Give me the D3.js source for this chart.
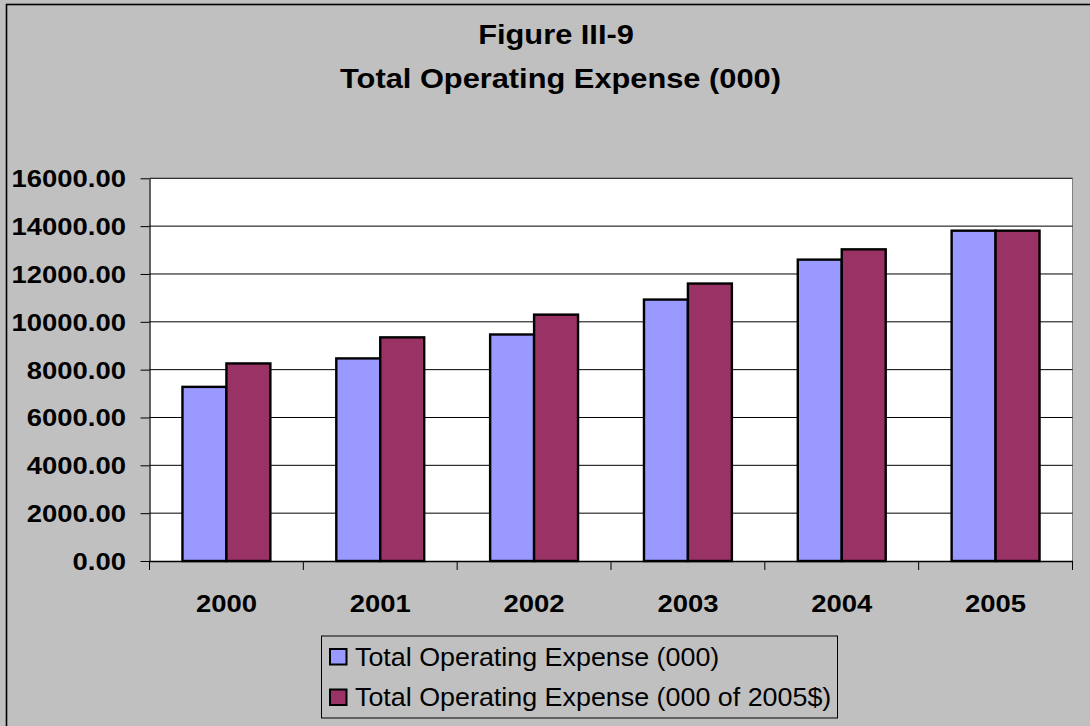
<!DOCTYPE html>
<html>
<head>
<meta charset="utf-8">
<script src="https://cdn.jsdelivr.net/npm/d3@7"></script>
<style>
  html, body { margin: 0; padding: 0; background: #c0c0c0; }
  svg { display: block; }
  text { font-family: Arial, "Liberation Sans", sans-serif; fill: #000; }
</style>
</head>
<body>
<svg id="chart" width="1090" height="726"></svg>
<script>
// Fiscal years on the category axis
const years = ["2000", "2001", "2002", "2003", "2004", "2005"];
// Total operating expense, nominal dollars (000)
const nominal = [7280, 8470, 9470, 10930, 12600, 13810];
// Total operating expense, constant 2005 dollars (000)
const constant2005 = [8260, 9350, 10300, 11600, 13030, 13810];
// Value axis ticks
const yTicks = [0, 2000, 4000, 6000, 8000, 10000, 12000, 14000, 16000];

const seriesNames = ["Total Operating Expense (000)", "Total Operating Expense (000 of 2005$)"];
const seriesColors = ["#9999ff", "#993366"];
const seriesValues = [nominal, constant2005];

const svg = d3.select("#chart");
const W = 1090, H = 726;

// chart area background and frame (frame runs off the right/bottom edge)
svg.append("rect").attr("x", 0).attr("y", 0).attr("width", W).attr("height", H).attr("fill", "#c0c0c0");
svg.append("rect").attr("x", 6.5).attr("y", 4.5).attr("width", 1200).attr("height", 900)
  .attr("fill", "none").attr("stroke", "#000").attr("stroke-width", 1.6);

const plot = { left: 149.5, right: 1072.5, top: 178.3, bottom: 561 };

const x0 = d3.scaleBand().domain(years).range([plot.left, plot.right]).paddingInner(0).paddingOuter(0);
// gap width 150%: two bars occupy 2 / 3.5 of each category
const groupW = x0.bandwidth() * 2 / 3.5;
const x1 = d3.scaleBand().domain([0, 1]).range([0, groupW]).padding(0);
const y = d3.scaleLinear().domain([0, 16000]).range([plot.bottom, plot.top]);

// plot area
svg.append("rect").attr("x", plot.left).attr("y", plot.top)
  .attr("width", plot.right - plot.left).attr("height", plot.bottom - plot.top)
  .attr("fill", "#fff");
svg.append("line").attr("x1", plot.right).attr("x2", plot.right)
  .attr("y1", plot.top).attr("y2", plot.bottom).attr("stroke", "#808080").attr("stroke-width", 1);

// gridlines
svg.append("g").selectAll("line").data(yTicks.slice(1)).join("line")
  .attr("x1", plot.left).attr("x2", plot.right)
  .attr("y1", d => y(d)).attr("y2", d => y(d))
  .attr("stroke", "#000").attr("stroke-width", 1);

// bars
const groups = svg.append("g").selectAll("g").data(years).join("g")
  .attr("transform", d => `translate(${x0(d) + (x0.bandwidth() - groupW) / 2},0)`);
groups.selectAll("rect").data((d, i) => seriesValues.map((s, k) => ({ k, v: s[i] }))).join("rect")
  .attr("x", d => x1(d.k))
  .attr("width", x1.bandwidth())
  .attr("y", d => y(d.v))
  .attr("height", d => y(0) - y(d.v))
  .attr("fill", d => seriesColors[d.k])
  .attr("stroke", "#000").attr("stroke-width", 2.4);

// value axis
const yAxis = svg.append("g").attr("transform", `translate(${plot.left},0)`)
  .call(d3.axisLeft(y).tickValues(yTicks).tickFormat(d3.format(".2f")).tickSize(9).tickSizeOuter(0));
yAxis.select(".domain").attr("stroke", "#000").attr("stroke-width", 1.2);
yAxis.selectAll(".tick line").attr("stroke", "#000");
yAxis.selectAll(".tick text")
  .attr("x", 0).attr("dy", null)
  .attr("transform", "translate(-23.5,8.5) scale(1.13,1)")
  .style("font-size", "24.3px").style("font-weight", "bold").attr("fill", "#000");

// category axis
const xAxis = svg.append("g").attr("transform", `translate(0,${plot.bottom})`)
  .call(d3.axisBottom(x0).tickSize(0).tickSizeOuter(0));
xAxis.select(".domain").attr("stroke", "#000").attr("stroke-width", 1.6);
xAxis.selectAll(".tick text")
  .attr("y", 0).attr("dy", null)
  .attr("transform", "translate(0,50.7) scale(1.13,1)")
  .style("font-size", "24.3px").style("font-weight", "bold").attr("fill", "#000");
// tick marks between categories
svg.append("g").selectAll("line").data(d3.range(years.length + 1)).join("line")
  .attr("x1", i => plot.left + i * x0.step()).attr("x2", i => plot.left + i * x0.step())
  .attr("y1", plot.bottom).attr("y2", plot.bottom + 9)
  .attr("stroke", "#000").attr("stroke-width", 1);

// title
const title = svg.append("g").attr("text-anchor", "middle");
title.append("text").attr("transform", "translate(556,43.5) scale(1.1,1)")
  .style("font-size", "28px").style("font-weight", "bold").text("Figure III-9");
title.append("text").attr("transform", "translate(560.5,87.5) scale(1.1,1)")
  .style("font-size", "28px").style("font-weight", "bold").text("Total Operating Expense (000)");

// legend
const legend = svg.append("g");
legend.append("rect").attr("x", 321.5).attr("y", 636).attr("width", 516).attr("height", 82)
  .attr("fill", "#c0c0c0").attr("stroke", "#000").attr("stroke-width", 1);
const items = legend.selectAll("g").data(seriesNames).join("g")
  .attr("transform", (d, i) => `translate(0,${i * 40.5})`);
items.append("rect").attr("x", 330).attr("y", 649).attr("width", 16.5).attr("height", 15.5)
  .attr("fill", (d, i) => seriesColors[i]).attr("stroke", "#000").attr("stroke-width", 2);
items.append("text").attr("transform", "translate(355,665.5) scale(1.075,1)")
  .style("font-size", "25px").text(d => d);
</script>
</body>
</html>
